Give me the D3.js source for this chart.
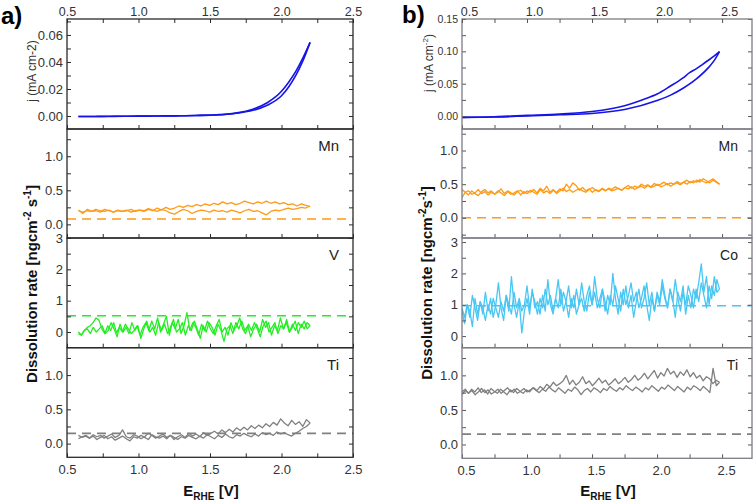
<!DOCTYPE html>
<html><head><meta charset="utf-8">
<script src="https://cdn.jsdelivr.net/npm/d3@7"></script>
<style>body{margin:0;background:#fff} text{font-family:Arial,"Liberation Sans",sans-serif}</style>
</head><body><svg id="c" width="756" height="502"></svg>
<script>
// ---------------- DATA ----------------
const xTickLabels = [0.5, 1.0, 1.5, 2.0, 2.5];

// Panel a: CV (E in V, j in mA cm-2)
const aCvFwdE = [0.58,0.7,0.8,0.9,1.0,1.1,1.2,1.3,1.4,1.5,1.6,1.7,1.8,1.9,2.0,2.05,2.1,2.15,2.2];
const aCvFwdJ = [-0.0004,-0.0003,-0.0003,-0.0002,-0.0001,0.0,0.0001,0.0002,0.0004,0.0006,0.0011,0.0022,0.0042,0.0080,0.0150,0.0215,0.0300,0.0410,0.0545];
const aCvBackE = [2.2,2.15,2.1,2.05,2.0,1.9,1.8,1.7,1.6,1.5,1.4,1.3,1.2,1.1,1.0,0.9,0.8,0.7,0.58];
const aCvBackJ = [0.0545,0.0430,0.0330,0.0250,0.0183,0.0098,0.0050,0.0025,0.0012,0.0007,0.0004,0.0002,0.0001,0.0,-0.0001,-0.0002,-0.0002,-0.0003,-0.0003];

// Panel b: CV
const bCvFwdE = [0.5,0.75,1.0,1.25,1.5,1.75,2.0,2.1,2.2,2.3,2.4,2.44,2.48];
const bCvFwdJ = [-0.002,-0.0015,0.0,0.002,0.004,0.010,0.024,0.032,0.043,0.057,0.076,0.086,0.0995];
const bCvBackE = [2.48,2.44,2.4,2.35,2.3,2.25,2.2,2.1,2.0,1.9,1.75,1.5,1.25,1.0,0.75,0.5];
const bCvBackJ = [0.0995,0.093,0.087,0.080,0.073,0.067,0.059,0.046,0.034,0.026,0.016,0.007,0.003,0.001,-0.001,-0.002];

// Sweep limits
const aSweep = [0.58, 2.2];
const bSweep = [0.5, 2.48];

// Panel a dissolution (ng cm-2 s-1), forward sweep then backward sweep
const aMnFwd = [0.21,0.16,0.22,0.19,0.2,0.18,0.22,0.2,0.18,0.21,0.19,0.2,0.22,0.19,0.21,0.2,0.23,0.21,0.19,0.22,0.2,0.17,0.15,0.19,0.22,0.2,0.16,0.19,0.21,0.2,0.18,0.21,0.19,0.2,0.18,0.21,0.19,0.17,0.2,0.22,0.19,0.2,0.17,0.14,0.19,0.21,0.2,0.22,0.24,0.22,0.23,0.25,0.24,0.27];
const aMnBack = [0.26,0.28,0.3,0.27,0.3,0.29,0.32,0.3,0.33,0.31,0.34,0.31,0.33,0.3,0.32,0.34,0.31,0.29,0.32,0.3,0.33,0.29,0.31,0.28,0.3,0.27,0.29,0.26,0.28,0.25,0.27,0.24,0.22,0.25,0.21,0.24,0.2,0.22,0.19,0.21,0.2,0.18,0.21,0.19,0.2,0.18,0.21,0.19,0.2,0.22,0.19,0.2,0.18,0.2];
const aVFwd = [-0.05,-0.1,0.05,0.15,0.2,0.3,0.45,0.38,0.1,-0.05,0.2,0.05,0.3,-0.02,0.15,0.0,0.25,0.1,-0.05,0.05,0.2,-0.1,0.15,0.3,0.05,0.35,0.1,0.45,0.0,0.25,0.5,-0.1,0.3,0.1,0.4,-0.05,0.2,0.62,0.05,0.3,0.15,-0.1,0.25,0.05,0.35,0.1,-0.05,0.2,0.4,0.0,0.15,-0.1,0.3,0.05,0.2,0.45,0.1,-0.05,0.25,0.05,0.3,0.1,-0.15,0.2,0.35,0.0,0.15,0.3,-0.05,0.2,0.1,0.4,0.0,0.25,0.05,0.3,0.15,0.35,0.1,0.2];
const aVBack = [0.2,0.3,0.1,0.25,-0.05,0.35,0.15,0.0,0.3,0.1,0.45,0.05,0.2,-0.1,0.3,0.15,0.4,0.0,0.25,0.1,-0.15,0.2,0.05,0.35,0.1,0.3,-0.05,0.2,0.1,-0.3,0.05,0.25,-0.1,0.15,0.3,0.0,0.2,-0.2,0.1,0.35,0.05,0.2,-0.1,0.3,0.1,0.0,0.4,0.15,-0.05,0.25,0.05,0.3,-0.1,0.15,0.0,0.35,0.1,-0.2,0.2,0.05,0.3,-0.05,0.15,0.0,0.25,-0.15,0.1,0.3,0.05,-0.05,0.2,0.1,0.0,0.15,-0.05,0.1,0.05,-0.1,0.0];
const aTiFwd = [0.07,0.1,0.12,0.08,0.11,0.06,0.09,0.12,0.07,0.1,0.05,0.08,0.11,0.07,0.04,0.1,0.08,0.12,0.09,0.06,0.13,0.1,0.08,0.11,0.07,0.12,0.09,0.06,0.1,0.08,0.12,0.09,0.07,0.11,0.08,0.13,0.1,0.07,0.12,0.09,0.14,0.1,0.08,0.13,0.11,0.15,0.12,0.1,0.14,0.11,0.16,0.13,0.15,0.12,0.17,0.14,0.16,0.13,0.11,0.15,0.18,0.22,0.25,0.3];
const aTiBack = [0.3,0.35,0.25,0.32,0.28,0.34,0.26,0.3,0.36,0.27,0.31,0.25,0.29,0.23,0.27,0.22,0.26,0.2,0.24,0.19,0.23,0.17,0.21,0.16,0.2,0.14,0.18,0.15,0.12,0.16,0.1,0.14,0.11,0.15,0.09,0.13,0.1,0.06,0.12,0.09,0.14,0.11,0.08,0.12,0.15,0.1,0.07,0.11,0.13,0.08,0.1,0.2,0.12,0.09,0.14,0.11,0.08,0.12,0.1,0.13,0.08,0.11,0.09,0.12];

// Panel b dissolution
const bMnFwd = [0.3,0.38,0.34,0.4,0.36,0.33,0.39,0.42,0.37,0.4,0.35,0.38,0.43,0.36,0.4,0.37,0.34,0.39,0.41,0.36,0.4,0.38,0.42,0.37,0.44,0.4,0.47,0.38,0.42,0.36,0.4,0.44,0.39,0.42,0.38,0.41,0.43,0.4,0.38,0.42,0.45,0.41,0.39,0.43,0.4,0.44,0.42,0.46,0.43,0.41,0.45,0.48,0.44,0.47,0.45,0.5,0.47,0.49,0.46,0.51,0.48,0.5,0.53,0.49,0.52,0.5,0.54,0.51,0.53,0.56,0.52,0.55,0.53,0.57,0.54,0.52,0.55,0.58,0.54,0.5];
const bMnBack = [0.5,0.53,0.56,0.52,0.55,0.58,0.53,0.56,0.52,0.54,0.5,0.53,0.49,0.52,0.5,0.47,0.51,0.48,0.46,0.5,0.47,0.45,0.48,0.44,0.47,0.45,0.42,0.46,0.43,0.45,0.41,0.44,0.42,0.4,0.43,0.41,0.44,0.4,0.42,0.38,0.43,0.4,0.45,0.41,0.48,0.52,0.44,0.5,0.4,0.43,0.38,0.41,0.36,0.4,0.37,0.42,0.35,0.38,0.41,0.36,0.39,0.34,0.4,0.37,0.35,0.39,0.33,0.37,0.4,0.35,0.38,0.34,0.39,0.36,0.42,0.37,0.35,0.4,0.38,0.42];
const bCoFwd = [0.8,0.4,1.0,0.6,1.3,0.9,0.5,1.1,0.7,1.4,0.8,1.2,0.6,1.0,1.7,0.9,0.5,1.3,0.8,1.9,1.0,0.6,1.1,0.1,0.8,1.2,0.7,1.5,0.9,1.1,0.7,1.3,0.8,1.8,1.0,0.7,1.2,0.9,1.5,0.8,1.1,1.6,0.9,1.3,0.7,1.0,1.7,1.1,0.8,1.4,1.0,1.9,1.2,0.9,1.5,0.8,1.3,1.0,2.0,1.2,0.7,1.4,1.0,1.6,0.9,1.3,0.6,1.1,1.5,0.9,1.2,1.7,1.0,1.4,0.8,1.3,1.0,1.6,1.2,0.9,1.5,1.1,1.8,1.2,0.8,1.4,1.0,1.6,1.3,0.9,1.5,1.1,1.7,1.3,0.9,1.6,1.2,1.9,1.4,1.5];
const bCoBack = [1.5,1.8,1.3,1.6,1.0,1.9,1.4,2.3,1.7,1.2,1.5,0.9,1.3,0.7,1.6,1.1,1.4,0.6,1.2,1.5,0.9,1.3,1.8,1.1,1.4,0.8,1.2,0.5,1.0,1.6,1.2,0.9,1.4,1.1,1.7,1.3,1.0,1.5,0.8,1.2,1.6,1.0,1.3,0.7,1.1,1.5,1.2,0.9,1.4,1.0,1.6,1.3,0.8,1.2,1.0,1.5,0.9,1.2,0.6,1.1,1.4,1.0,1.8,1.2,0.8,1.3,1.0,1.5,0.9,1.2,0.7,1.1,1.4,0.9,1.6,1.0,0.8,1.2,0.9,1.4,0.7,1.0,1.3,0.8,1.1,0.6,0.9,1.2,0.7,1.0,0.5,0.9,1.1,0.7,1.2,0.3,0.8,1.0,0.6,0.9];
const bTiFwd = [0.72,0.78,0.74,0.8,0.76,0.82,0.75,0.79,0.73,0.81,0.77,0.74,0.8,0.76,0.72,0.79,0.75,0.81,0.77,0.74,0.79,0.76,0.82,0.78,0.75,0.8,0.77,0.83,0.79,0.76,0.82,0.78,0.74,0.8,0.77,0.83,0.79,0.72,0.78,0.81,0.76,0.82,0.79,0.75,0.81,0.78,0.84,0.8,0.77,0.82,0.79,0.85,0.81,0.78,0.83,0.8,0.76,0.82,0.79,0.85,0.81,0.77,0.83,0.8,0.86,0.82,0.78,0.84,0.8,0.76,0.83,0.79,0.85,0.82,0.78,0.84,0.8,0.75,1.1,0.85,0.9];
const bTiBack = [0.9,0.93,0.88,0.95,0.98,0.92,1.0,0.96,1.04,0.98,1.08,1.0,1.05,0.97,1.06,1.02,1.1,0.99,1.04,0.96,1.07,1.01,0.95,1.03,0.97,0.93,1.0,0.94,0.9,0.97,0.92,0.88,0.95,0.9,0.86,0.93,0.89,0.96,0.9,0.85,0.92,0.88,0.98,0.9,0.86,0.93,0.87,1.0,0.92,0.88,0.85,0.9,0.83,0.87,0.8,0.84,0.78,0.82,0.79,0.76,0.81,0.77,0.74,0.8,0.76,0.82,0.78,0.74,0.8,0.76,0.73,0.79,0.75,0.81,0.76,0.72,0.78,0.74,0.8,0.76];

// Background (dashed) levels
const aBaselines = {Mn: 0.08, V: 0.52, Ti: 0.15};
const bBaselines = {Mn: 0.0, Co: 0.97, Ti: 0.15};

// ---------------- DRAW ----------------
const svg = d3.select('#c');
const COL = {cv:'#1414e6', Mn:'#ff9a16', V:'#22ee22', Co:'#48c6f4', Ti:'#808080'};

function sweepPts(vals, e0, e1){
  const n = vals.length;
  return vals.map((v,i)=>[e0 + (e1-e0)*i/(n-1), v]);
}
function zip(E, J){ return E.map((e,i)=>[e, J[i]]); }

const panels = [
  { id:'a', x0:67, x1:353, xDomain:[0.5,2.5], frame:'#2a2a2a', tick:'#2a2a2a', topDx:0, botDx:0,
    subs:[
      {y0:19, y1:129, dom:[-0.0096,0.0718], major:[0,0.02,0.04,0.06], minor:d3.range(-0.0,0.071,0.01), fmt:d3.format('.2f'),
       lines:[zip(aCvFwdE,aCvFwdJ), zip(aCvBackE,aCvBackJ)], color:COL.cv, w:1.6, smooth:true},
      {y0:129, y1:238, dom:[-0.2,1.4], major:[0,0.5,1.0], minor:d3.range(0,1.31,0.25), fmt:d3.format('.1f'), el:'Mn', base:aBaselines.Mn,
       lines:[sweepPts(aMnFwd,aSweep[0],aSweep[1]), sweepPts(aMnBack,aSweep[1],aSweep[0])], color:COL.Mn, w:1.3},
      {y0:238, y1:347.7, dom:[-0.5,3.0], major:[0,1,2,3], minor:d3.range(0,3.01,0.5), fmt:d3.format('d'), el:'V', base:aBaselines.V,
       lines:[sweepPts(aVFwd,aSweep[0],aSweep[1]), sweepPts(aVBack,aSweep[1],aSweep[0])], color:COL.V, w:1.3},
      {y0:347.7, y1:457.3, dom:[-0.2,1.4], major:[0,0.5,1.0], minor:d3.range(0,1.31,0.25), fmt:d3.format('.1f'), el:'Ti', base:aBaselines.Ti,
       lines:[sweepPts(aTiFwd,aSweep[0],aSweep[1]), sweepPts(aTiBack,aSweep[1],aSweep[0])], color:COL.Ti, w:1.3}
    ]},
  { id:'b', x0:462, x1:752, xDomain:[0.5,2.73], frame:'#7c7c84', tick:'#555', topDx:7, botDx:4,
    subs:[
      {y0:19, y1:129, dom:[-0.02,0.15], major:[0,0.05,0.10,0.15], minor:d3.range(0,0.151,0.025), fmt:d3.format('.2f'), small:true,
       lines:[zip(bCvFwdE,bCvFwdJ), zip(bCvBackE,bCvBackJ)], color:COL.cv, w:1.6, smooth:true},
      {y0:129, y1:238, dom:[-0.3,1.32], major:[0,0.5,1.0], minor:d3.range(-0.25,1.31,0.25), fmt:d3.format('.1f'), el:'Mn', base:bBaselines.Mn,
       lines:[sweepPts(bMnFwd,bSweep[0],bSweep[1]), sweepPts(bMnBack,bSweep[1],bSweep[0])], color:COL.Mn, w:1.3},
      {y0:238, y1:347.7, dom:[-0.37,3.13], major:[0,1,2,3], minor:d3.range(0,3.01,0.5), fmt:d3.format('d'), el:'Co', base:bBaselines.Co,
       lines:[sweepPts(bCoFwd,bSweep[0],bSweep[1]), sweepPts(bCoBack,bSweep[1],bSweep[0])], color:COL.Co, w:1.3},
      {y0:347.7, y1:458.3, dom:[-0.2,1.4], major:[0,0.5,1.0], minor:d3.range(0,1.31,0.25), fmt:d3.format('.1f'), el:'Ti', base:bBaselines.Ti,
       lines:[sweepPts(bTiFwd,bSweep[0],bSweep[1]), sweepPts(bTiBack,bSweep[1],bSweep[0])], color:COL.Ti, w:1.3}
    ]}
];

const defs = svg.append('defs');

panels.forEach((p, pi) => {
  const x = d3.scaleLinear().domain(p.xDomain).range([p.x0, p.x1]);
  const xMinor = d3.range(0.5, 2.51, 0.25).filter(v => v >= p.xDomain[0]-1e-9 && v <= p.xDomain[1]);
  p.subs.forEach((s, si) => {
    const y = d3.scaleLinear().domain(s.dom).range([s.y1, s.y0]);
    const cid = `clip${pi}${si}`;
    defs.append('clipPath').attr('id', cid).append('rect')
      .attr('x', p.x0).attr('y', s.y0).attr('width', p.x1-p.x0).attr('height', s.y1-s.y0);
    const g = svg.append('g');
    const plot = g.append('g').attr('clip-path', `url(#${cid})`);
    if (s.base !== undefined) {
      plot.append('line').attr('x1', p.x0).attr('x2', p.x1).attr('y1', y(s.base)).attr('y2', y(s.base))
        .attr('stroke', s.color).attr('stroke-width', 1.6).attr('stroke-dasharray', '9,6');
    }
    const line = d3.line().x(d=>x(d[0])).y(d=>y(d[1]));
    if (s.smooth) line.curve(d3.curveMonotoneX);
    s.lines.forEach(L => {
      const data = s.smooth ? L.slice().sort((a,b)=>a[0]-b[0]) : L;
      plot.append('path').datum(data).attr('d', line).attr('fill','none')
        .attr('stroke', s.color).attr('stroke-width', s.w).attr('stroke-linejoin','round');
    });
    // y axes (ticks inward)
    const fs = s.small ? '10.5px' : '13px';
    const yl = g.append('g').attr('transform', `translate(${p.x0},0)`)
      .call(d3.axisLeft(y).tickValues(s.minor).tickSize(-4).tickFormat(''));
    const ylab = g.append('g').attr('transform', `translate(${p.x0},0)`)
      .call(d3.axisLeft(y).tickValues(s.major).tickSize(0).tickPadding(4).tickFormat(s.fmt));
    const yr = g.append('g').attr('transform', `translate(${p.x1},0)`)
      .call(d3.axisRight(y).tickValues(s.minor).tickSize(-4).tickFormat(''));
    // bottom ticks pointing up
    const xb = g.append('g').attr('transform', `translate(0,${s.y1})`)
      .call(d3.axisBottom(x).tickValues(xMinor).tickSize(-4).tickFormat(''));
    [yl, ylab, yr, xb].forEach(a => {
      a.select('.domain').remove();
      a.selectAll('line').attr('stroke', p.tick).attr('stroke-width', 1);
      a.selectAll('text').attr('font-size', fs).attr('fill', '#333').attr('font-family','Arial,"Liberation Sans",sans-serif');
    });
    // frame
    g.append('rect').attr('x', p.x0).attr('y', s.y0).attr('width', p.x1-p.x0).attr('height', s.y1-s.y0)
      .attr('fill','none').attr('stroke', p.frame).attr('stroke-width', 1.3);
    if (s.el) {
      g.append('text').attr('x', p.x1-14).attr('y', s.y0+22).attr('text-anchor','end')
        .attr('font-size', pi===0 ? '15px' : '14px').attr('fill','#222').text(s.el);
    }
    if (si === 0) {
      const xt = g.append('g').attr('transform', `translate(0,${s.y0})`)
        .call(d3.axisTop(x).tickValues(xMinor).tickSize(-4).tickFormat(''));
      const xtl = g.append('g').attr('transform', `translate(0,${s.y0})`)
        .call(d3.axisTop(x).tickValues(xTickLabels).tickSize(0).tickPadding(3).tickFormat(d3.format('.1f')));
      [xt, xtl].forEach(a => {
        a.select('.domain').remove();
        a.selectAll('line').attr('stroke', p.tick);
        a.selectAll('text').attr('font-size','12.5px').attr('fill','#333').attr('dx', p.topDx).attr('font-family','Arial,"Liberation Sans",sans-serif');
      });
    }
    if (si === p.subs.length-1) {
      const xbl = g.append('g').attr('transform', `translate(0,${s.y1})`)
        .call(d3.axisBottom(x).tickValues(xTickLabels).tickSize(0).tickPadding(7).tickFormat(d3.format('.1f')));
      xbl.select('.domain').remove();
      xbl.selectAll('text').attr('font-size','13px').attr('fill','#333').attr('dx', p.botDx).attr('font-family','Arial,"Liberation Sans",sans-serif');
    }
  });
});

// Panel letters
svg.append('text').attr('x', 1).attr('y', 24).attr('font-size','24px').attr('font-weight','bold').text('a)');
svg.append('text').attr('x', 402).attr('y', 23).attr('font-size','24px').attr('font-weight','bold').text('b)');

// j labels
const ja = svg.append('text').attr('transform','translate(36,71) rotate(-90)').attr('text-anchor','middle')
  .attr('font-size','12px').attr('fill','#333').text('j (mA cm-2)');
const jb = svg.append('text').attr('transform','translate(433,63) rotate(-90)').attr('text-anchor','middle')
  .attr('font-size','12px').attr('fill','#333');
jb.append('tspan').text('j (mA cm');
jb.append('tspan').attr('dy', -5).attr('font-size','8px').text('-2');
jb.append('tspan').attr('dy', 5).text(')');

// Dissolution titles
function dissTitle(tx, ty, spaced){
  const t = svg.append('text').attr('transform', `translate(${tx},${ty}) rotate(-90)`).attr('text-anchor','middle')
    .attr('font-size','15px').attr('font-weight','bold').attr('fill','#111');
  t.append('tspan').text('Dissolution rate [ngcm');
  t.append('tspan').attr('dy', -6).attr('font-size','10px').text('-2');
  t.append('tspan').attr('dy', 6).text(spaced ? ' s' : 's');
  t.append('tspan').attr('dy', -6).attr('font-size','10px').text('-1');
  t.append('tspan').attr('dy', 6).text(']');
}
dissTitle(37, 284, true);
dissTitle(432, 283, false);

// x titles
function xTitle(cx){
  const t = svg.append('text').attr('x', cx).attr('y', 496).attr('text-anchor','middle')
    .attr('font-size','15px').attr('font-weight','bold').attr('fill','#111');
  t.append('tspan').text('E');
  t.append('tspan').attr('dy', 4).attr('font-size','10px').text('RHE');
  t.append('tspan').attr('dy', -4).text(' [V]');
}
xTitle(211);
xTitle(608);
</script></body></html>
